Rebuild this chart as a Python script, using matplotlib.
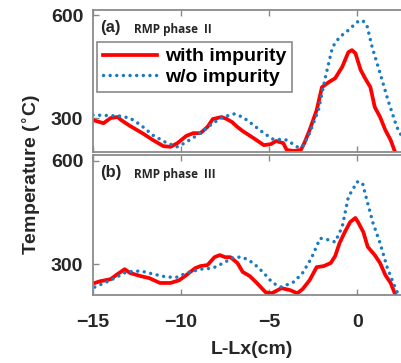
import numpy as np
import matplotlib
matplotlib.use('Agg')
import matplotlib.pyplot as plt

plt.rcParams['font.family'] = ['Liberation Sans', 'DejaVu Sans']
plt.rcParams['font.weight'] = 'bold'
plt.rcParams['mathtext.default'] = 'bf'

# Panel (a): RMP phase II
xa_imp = [-15, -14.4, -14.0, -13.6, -13.4, -12.9, -12.2, -11.6, -11.0, -10.6, -10.2, -9.7,
          -9.3, -8.9, -8.5, -8.2, -7.7, -7.4, -7.1, -6.8, -6.5, -5.9, -5.3, -4.9, -4.6,
          -4.2, -4.0, -3.6, -3.2, -3.0, -2.7, -2.3, -2.0, -1.6, -1.25, -0.85, -0.5, -0.3,
          -0.1, 0.2, 0.45, 0.75, 1.0, 1.3, 1.6, 1.9, 2.15]
ya_imp = [294, 285, 300, 303, 294, 277, 256, 236, 218, 216, 227, 248,
          256, 256, 274, 297, 303, 297, 288, 274, 262, 242, 221, 224, 233,
          227, 207, 204, 207, 227, 265, 323, 390, 405, 416, 449, 492, 498,
          489, 440, 416, 390, 332, 303, 265, 236, 201]
xa_no = [-15, -13.5, -12.9, -12.3, -11.6, -10.8, -10.2, -9.7, -8.9, -8.2, -7.6, -7.0,
         -6.5, -5.9, -5.3, -4.8, -4.0, -3.4, -3.1, -2.7, -2.2, -1.8, -1.4, -1.0, -0.5,
         0.0, 0.3, 0.55, 0.85, 1.3, 1.75, 2.25, 2.55]
ya_no = [309, 306, 300, 280, 250, 227, 216, 230, 256, 285, 303, 312,
         303, 280, 256, 239, 236, 216, 216, 256, 323, 420, 507, 536, 556,
         580, 585, 571, 507, 431, 352, 274, 245]

# Panel (b): RMP phase III
xb_imp = [-14.9, -14.6, -14.0, -13.6, -13.2, -12.9, -12.3, -11.8, -11.2, -10.6, -10.1,
          -9.7, -9.2, -8.9, -8.5, -8.1, -7.8, -7.5, -7.2, -6.8, -6.5, -6.1, -5.7, -5.2,
          -4.85, -4.3, -3.8, -3.4, -3.1, -2.7, -2.3, -1.9, -1.5, -1.25, -1.0, -0.7, -0.4,
          -0.1, 0.05, 0.35, 0.6, 1.0, 1.3, 1.6, 1.9, 2.15]
yb_imp = [245, 250, 256, 271, 285, 274, 265, 259, 245, 245, 253,
          268, 288, 294, 297, 320, 326, 320, 320, 303, 277, 265, 245, 218,
          215, 230, 224, 215, 227, 253, 291, 294, 303, 323, 361, 393, 422,
          434, 422, 393, 350, 326, 303, 268, 245, 213]
xb_no = [-14.9, -14.0, -13.1, -12.3, -11.6, -10.8, -10.2, -9.7, -8.9, -8.2, -7.6, -7.0,
         -6.5, -5.9, -5.3, -4.8, -4.3, -3.6, -3.1, -2.6, -2.1, -1.6, -1.25, -0.85, -0.5,
         0.0, 0.3, 0.55, 0.9, 1.3, 1.7, 2.05, 2.3]
yb_no = [233, 253, 277, 280, 271, 262, 262, 274, 285, 288, 303, 320,
         320, 303, 274, 245, 233, 248, 274, 317, 375, 370, 364, 408, 495,
         539, 536, 486, 419, 361, 291, 245, 215]

panel_tags = ['(a)', '(b)']
panel_names = ['RMP phase  II', 'RMP phase  III']
xticks = [-15, -10, -5, 0]
yticks = [300, 600]

fig = plt.figure(figsize=(4.02, 3.63), dpi=100)
W, H = 402, 363
ax_a = fig.add_axes([93 / W, 1 - 152 / H, 317 / W, 142 / H])
ax_b = fig.add_axes([93 / W, 1 - 295 / H, 317 / W, 140 / H])

blue = '#1a7bc4'
spine_col = '#8a8a8a'
dots = dict(color=blue, lw=2.5, ls=(0, (0.01, 1.9)), dash_capstyle='round')

ax_a.plot(xa_imp, ya_imp, color='red', lw=2.7, label='with impurity')
ax_a.plot(xa_no, ya_no, label='w/o impurity', **dots)
ax_b.plot(xb_imp, yb_imp, color='red', lw=2.7)
ax_b.plot(xb_no, yb_no, **dots)

ax_a.set_ylim(201, 615)
ax_b.set_ylim(210, 617)

for ax, tag, name in zip([ax_a, ax_b], panel_tags, panel_names):
    ax.set_xlim(-15, 3)
    ax.set_xticks(xticks)
    ax.set_yticks(yticks)
    ax.tick_params(direction='in', length=4, width=1, color=spine_col,
                   top=True, right=True, labelsize=14, labelcolor='#262626', pad=7)
    for s in ax.spines.values():
        s.set_color(spine_col)
        s.set_linewidth(1.3)
    ax.text(0.022, 0.93, tag, transform=ax.transAxes, fontsize=12,
            fontweight='bold', color='#262626', va='top')
    ax.text(0.13, 0.905, name, transform=ax.transAxes, fontsize=8.5,
            family='Open Sans', fontweight='bold', color='#262626', va='top')

ax_a.tick_params(labelbottom=False)
ax_b.tick_params(axis='x', pad=14)
ax_b.set_xlabel('L-Lx(cm)', fontsize=14, fontweight='bold', color='#262626', labelpad=7)

fig.text(32 / W, 1 - 175 / H, 'Temperature ($^{\\circ}$C)', rotation=90,
         ha='center', va='center', fontsize=14, fontweight='bold', color='#262626')

leg = ax_a.legend(loc='upper left', bbox_to_anchor=(0.013, 0.775), borderaxespad=0,
                  fontsize=14, handlelength=2.8, labelspacing=0.15, borderpad=0.3,
                  handletextpad=0.4, fancybox=False, framealpha=1)
leg.get_frame().set_edgecolor(spine_col)
leg.get_frame().set_linewidth(1.2)
for t in leg.get_texts():
    t.set_fontweight('bold')

fig.savefig('out.png', dpi=100)
